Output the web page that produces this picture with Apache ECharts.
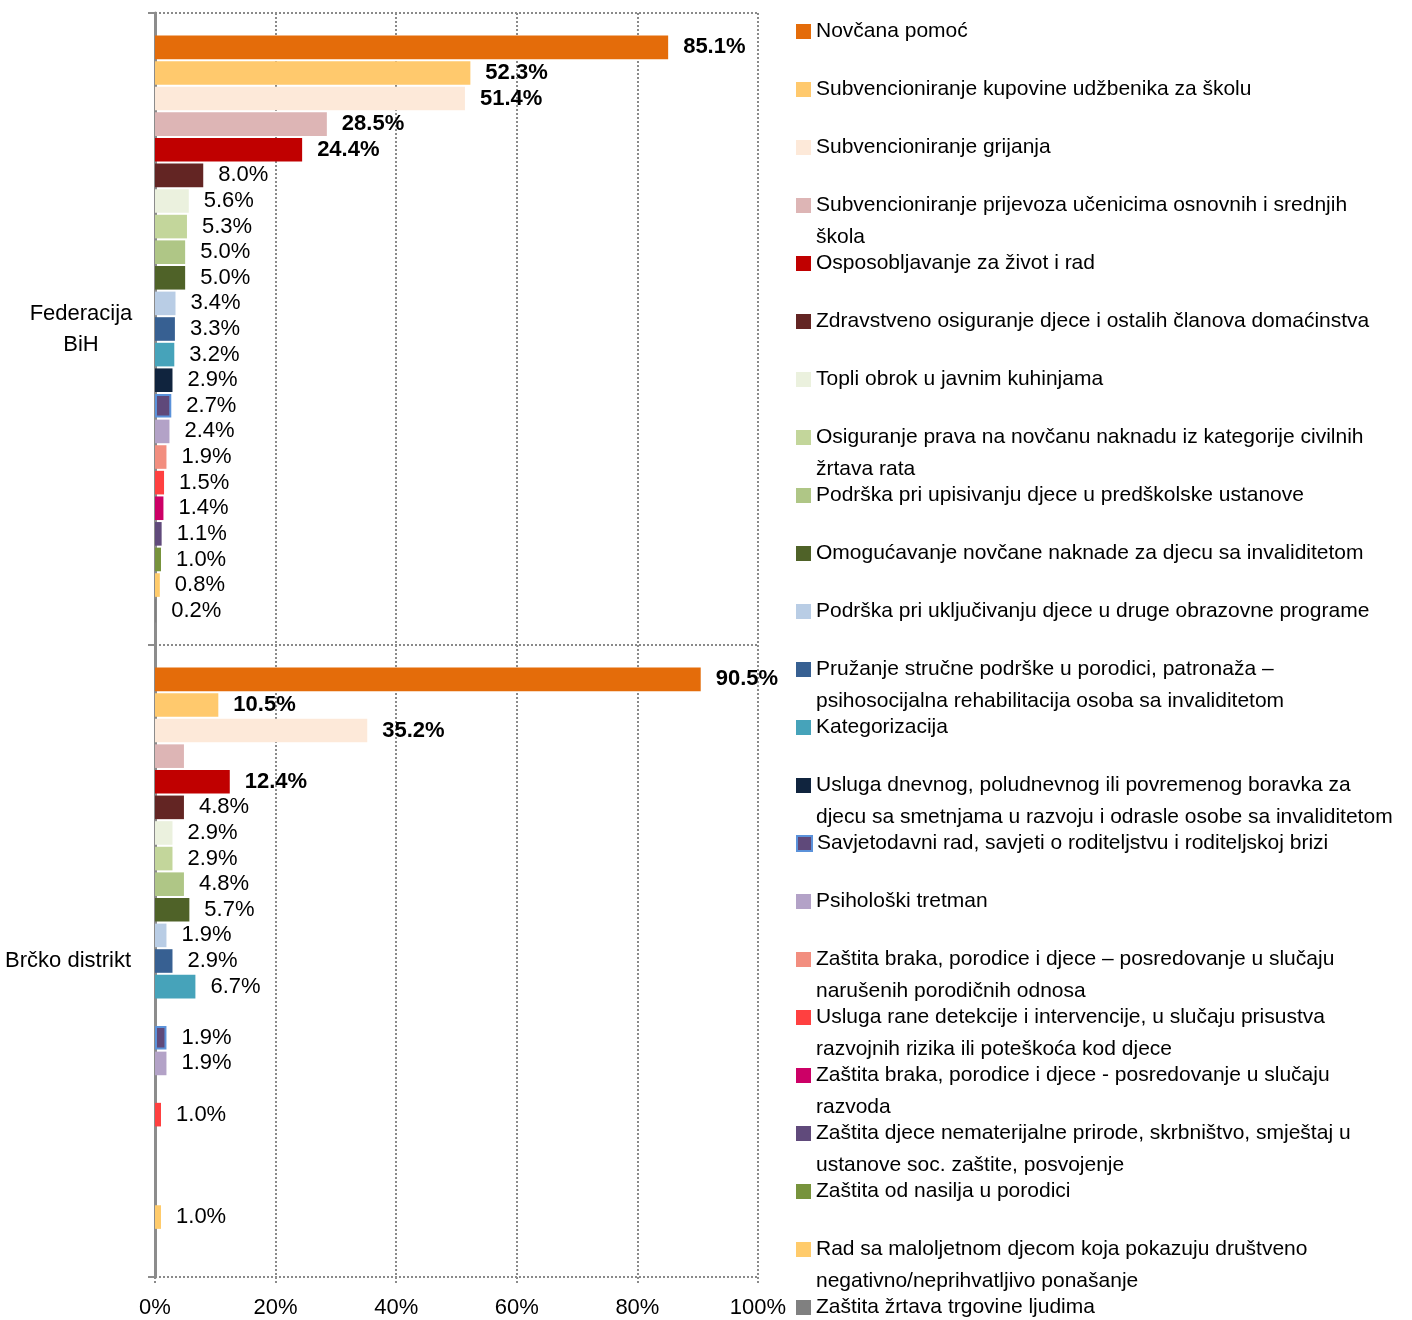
<!DOCTYPE html>
<html><head><meta charset="utf-8">
<script src="https://cdn.jsdelivr.net/npm/echarts@6/dist/echarts.min.js"></script>
<style>html,body{margin:0;padding:0;background:#fff}#c{width:1412px;height:1320px}</style>
</head><body><div id="c"></div>
<script>
const categories = ['Federacija BiH', 'Brčko distrikt'];
const seriesNames = [
  'Novčana pomoć',
  'Subvencioniranje kupovine udžbenika za školu',
  'Subvencioniranje grijanja',
  'Subvencioniranje prijevoza učenicima osnovnih i srednjih škola',
  'Osposobljavanje za život i rad',
  'Zdravstveno osiguranje djece i ostalih članova domaćinstva',
  'Topli obrok u javnim kuhinjama',
  'Osiguranje prava na novčanu naknadu iz kategorije civilnih žrtava rata',
  'Podrška pri upisivanju djece u predškolske ustanove',
  'Omogućavanje novčane naknade za djecu sa invaliditetom',
  'Podrška pri uključivanju djece u druge obrazovne programe',
  'Pružanje stručne podrške u porodici, patronaža – psihosocijalna rehabilitacija osoba sa invaliditetom',
  'Kategorizacija',
  'Usluga dnevnog, poludnevnog ili povremenog boravka za djecu sa smetnjama u razvoju i odrasle osobe sa invaliditetom',
  'Savjetodavni rad, savjeti o roditeljstvu i roditeljskoj brizi',
  'Psihološki tretman',
  'Zaštita braka, porodice i djece – posredovanje u slučaju narušenih porodičnih odnosa',
  'Usluga rane detekcije i intervencije, u slučaju prisustva razvojnih rizika ili poteškoća kod djece',
  'Zaštita braka, porodice i djece - posredovanje u slučaju razvoda',
  'Zaštita djece nematerijalne prirode, skrbništvo, smještaj u ustanove soc. zaštite, posvojenje',
  'Zaštita od nasilja u porodici',
  'Rad sa maloljetnom djecom koja pokazuju društveno negativno/neprihvatljivo ponašanje',
  'Zaštita žrtava trgovine ljudima'
];
const fbihValues  = [85.1, 52.3, 51.4, 28.5, 24.4, 8.0, 5.6, 5.3, 5.0, 5.0, 3.4, 3.3, 3.2, 2.9, 2.7, 2.4, 1.9, 1.5, 1.4, 1.1, 1.0, 0.8, 0.2];
const brckoValues = [90.5, 10.5, 35.2, 4.8, 12.4, 4.8, 2.9, 2.9, 4.8, 5.7, 1.9, 2.9, 6.7, null, 1.9, 1.9, null, 1.0, null, null, null, 1.0, null];
const brckoUnlabeled = ['Subvencioniranje prijevoza učenicima osnovnih i srednjih škola'];
const legendLines = {
  'Subvencioniranje prijevoza učenicima osnovnih i srednjih škola': ['Subvencioniranje prijevoza učenicima osnovnih i srednjih', 'škola'],
  'Osiguranje prava na novčanu naknadu iz kategorije civilnih žrtava rata': ['Osiguranje prava na novčanu naknadu iz kategorije civilnih', 'žrtava rata'],
  'Pružanje stručne podrške u porodici, patronaža – psihosocijalna rehabilitacija osoba sa invaliditetom': ['Pružanje stručne podrške u porodici, patronaža –', 'psihosocijalna rehabilitacija osoba sa invaliditetom'],
  'Usluga dnevnog, poludnevnog ili povremenog boravka za djecu sa smetnjama u razvoju i odrasle osobe sa invaliditetom': ['Usluga dnevnog, poludnevnog ili povremenog boravka za', 'djecu sa smetnjama u razvoju i odrasle osobe sa invaliditetom'],
  'Zaštita braka, porodice i djece – posredovanje u slučaju narušenih porodičnih odnosa': ['Zaštita braka, porodice i djece – posredovanje u slučaju', 'narušenih porodičnih odnosa'],
  'Usluga rane detekcije i intervencije, u slučaju prisustva razvojnih rizika ili poteškoća kod djece': ['Usluga rane detekcije i intervencije, u slučaju prisustva', 'razvojnih rizika ili poteškoća kod djece'],
  'Zaštita braka, porodice i djece - posredovanje u slučaju razvoda': ['Zaštita braka, porodice i djece - posredovanje u slučaju', 'razvoda'],
  'Zaštita djece nematerijalne prirode, skrbništvo, smještaj u ustanove soc. zaštite, posvojenje': ['Zaštita djece nematerijalne prirode, skrbništvo, smještaj u', 'ustanove soc. zaštite, posvojenje'],
  'Rad sa maloljetnom djecom koja pokazuju društveno negativno/neprihvatljivo ponašanje': ['Rad sa maloljetnom djecom koja pokazuju društveno', 'negativno/neprihvatljivo ponašanje']
};
const colors = ['#E46C0A', '#FFC96D', '#FDE9D9', '#DDB5B5', '#C00000', '#632523', '#EBF1DE', '#C3D69B', '#AFC686', '#4F6228',
  '#B9CDE5', '#376092', '#46A3BA', '#10243E', '#5F497A', '#B3A2C7', '#F28E7F', '#FF4040', '#CC0066', '#604A7B',
  '#77933C', '#FFCB6B', '#808080'];
const xTicks = {min: 0, max: 100, interval: 20};

const chartFont = '"Liberation Sans", Arial, sans-serif';
const legendFont = '"Liberation Sans", Arial, sans-serif';
const dots = [2, 2];

const series = seriesNames.map((name, i) => ({
  name, type: 'bar', barWidth: 23.6, barGap: '8.5%',
  emphasis: {disabled: true},
  itemStyle: Object.assign({color: colors[i]}, name.startsWith('Savjetodavni') ? {borderColor: '#5B92DA', borderWidth: 2} : {}),
  label: {show: true, position: 'right', distance: 15, fontFamily: chartFont, fontSize: 22, color: '#000',
    formatter: p => p.value.toFixed(1) + '%'},
  data: [fbihValues[i], brckoValues[i]].map((v, ci) => v == null ? null : {
    value: v,
    label: {fontWeight: v >= 10 ? 'bold' : 'normal', show: !(ci === 1 && brckoUnlabeled.includes(name))}
  })
}));

const legends = seriesNames.map((name, i) => {
  const lines = legendLines[name] || [name];
  const two = lines.length > 1;
  const center = 31.5 + 58 * i;
  return {
    data: [name], orient: 'vertical', left: 796, top: center - (two ? 48 : 16), padding: 0,
    itemWidth: 15, itemHeight: 15, itemGap: 0, icon: 'rect', selectedMode: false,
    formatter: () => (two ? '\n' : '') + lines.join('\n'),
    textStyle: {fontFamily: legendFont, fontSize: 21, color: '#000', lineHeight: 32}
  };
});

const chart = echarts.init(document.getElementById('c'), null, {renderer: 'canvas'});
chart.setOption({
  animation: false,
  grid: {left: 155, right: 654, top: 13, bottom: 43, containLabel: false, outerBoundsMode: 'none'},
  xAxis: {
    type: 'value', min: xTicks.min, max: xTicks.max, interval: xTicks.interval,
    axisLine: {show: false},
    axisTick: {show: true, length: 6, lineStyle: {color: '#8a8a8a', width: 2, type: dots}},
    splitLine: {show: true, lineStyle: {color: '#8a8a8a', width: 2, type: dots}},
    axisLabel: {formatter: '{value}%', fontFamily: chartFont, fontSize: 22, color: '#000', margin: 20}
  },
  yAxis: {
    type: 'category', data: categories, inverse: true,
    axisLine: {show: true, lineStyle: {color: '#8c8c8c', width: 3}},
    axisTick: {show: true, length: 7, lineStyle: {color: '#8c8c8c', width: 2}},
    splitLine: {show: true, lineStyle: {color: '#8a8a8a', width: 2, type: dots}},
    axisLabel: {
      margin: 24, fontFamily: chartFont, fontSize: 22, color: '#000', lineHeight: 31,
      formatter: v => v === 'Federacija BiH' ? '{c|Federacija}\n{c|BiH}' : v,
      rich: {c: {width: 100, align: 'center', fontFamily: chartFont, fontSize: 22, lineHeight: 31, color: '#000'}}
    }
  },
  legend: legends,
  series
});
</script>
</body></html>
